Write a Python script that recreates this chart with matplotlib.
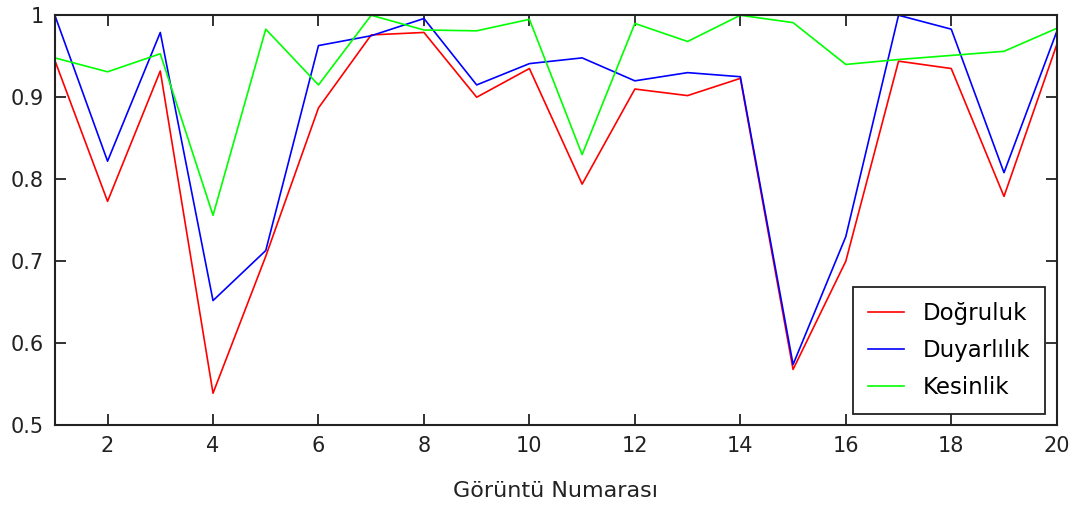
import numpy as np
import matplotlib.pyplot as plt

# Image numbers
goruntu = np.arange(1, 21)

# Metric values per image
dogruluk = [0.945, 0.773, 0.932, 0.539, 0.706, 0.887, 0.976, 0.979, 0.900, 0.935,
            0.794, 0.910, 0.902, 0.923, 0.568, 0.700, 0.944, 0.935, 0.779, 0.964]
duyarlilik = [1.000, 0.822, 0.979, 0.652, 0.713, 0.963, 0.975, 0.996, 0.915, 0.941,
              0.948, 0.920, 0.930, 0.925, 0.574, 0.730, 1.000, 0.983, 0.808, 0.980]
kesinlik = [0.948, 0.931, 0.953, 0.756, 0.983, 0.915, 1.000, 0.982, 0.981, 0.995,
            0.830, 0.990, 0.968, 1.000, 0.991, 0.940, 0.946, 0.951, 0.956, 0.984]

plt.rcParams['font.family'] = ['DejaVu Sans']

fig = plt.figure(figsize=(10.75, 5.08), dpi=100)
ax = fig.add_axes([0.051, 0.163, 0.932, 0.807])

ax.plot(goruntu, dogruluk, color='#ff0000', lw=1.2, label='Doğruluk')
ax.plot(goruntu, duyarlilik, color='#0000ff', lw=1.2, label='Duyarlılık')
ax.plot(goruntu, kesinlik, color='#00ff00', lw=1.2, label='Kesinlik')

ax.set_xlim(1, 20)
ax.set_ylim(0.5, 1)
ax.set_xticks(np.arange(2, 21, 2))
ax.set_yticks([0.5, 0.6, 0.7, 0.8, 0.9, 1.0])
ax.set_yticklabels(['0.5', '0.6', '0.7', '0.8', '0.9', '1'])
ax.tick_params(direction='in', top=True, right=True, length=8, width=1.3,
               labelsize=15, pad=8, colors='#222222')
for s in ax.spines.values():
    s.set_linewidth(1.5)
    s.set_color('#222222')

ax.set_xlabel('Görüntü Numarası', fontsize=16, labelpad=18, color='#222222')

leg = ax.legend(loc='lower right', fontsize=16.5, fancybox=False, framealpha=1,
                edgecolor='#222222', borderpad=0.65, handlelength=1.6,
                handletextpad=0.8, labelspacing=0.6, borderaxespad=0.5)
leg.get_frame().set_linewidth(1.3)

fig.savefig('out.png', dpi=100)
